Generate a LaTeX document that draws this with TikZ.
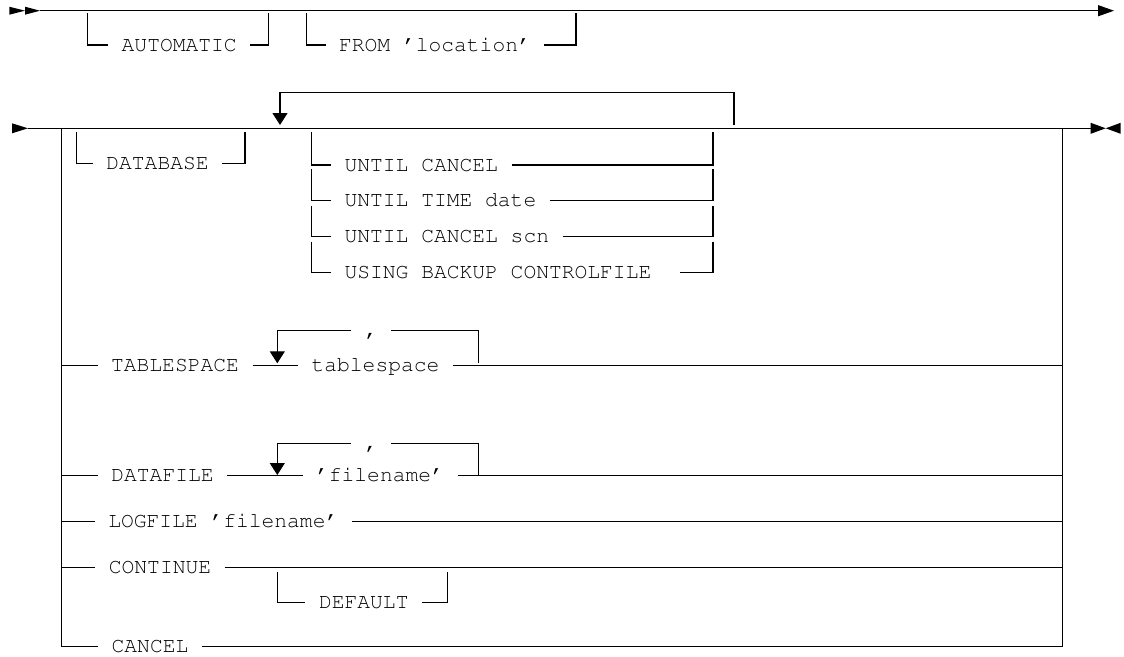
\documentclass[tikz,border=0pt]{standalone}
\usepackage[T1]{fontenc}
\usepackage{courier}
\usetikzlibrary{arrows.meta}

\begin{document}
\begin{tikzpicture}[x=1pt, y=-1pt, line width=1.2pt,
		lbl/.style={font=\ttfamily\fontsize{21.3}{24}\selectfont, inner xsep=13pt, inner ysep=0pt, text height=12pt, text depth=0pt},
		dn/.style={-{Triangle[length=12pt, width=15pt]}}]
		%%%%% START %%%%%
		\useasboundingbox (0, 0) rectangle (1124, 656);
		
		\fill (9.3, 6.7) -- (25, 10.7) -- (9.3, 14.7) -- cycle;
		\fill (25, 6.7) -- (40, 10.7) -- (25, 14.7) -- cycle;
		\draw[-{Triangle[length=16pt, width=11pt]}] (40, 10.7) -- (1114, 10.7);
		
		\node[lbl] (automatic) at (179.2, 45) {AUTOMATIC};
		\draw (87.3, 13.3) |- (automatic);
		\draw (automatic) -| (268.3, 13.3);
		\node[lbl] (from) at (435, 45) {FROM 'location'};
		\draw (306.7, 13.3) |- (from);
		\draw (from) -| (576, 13.3);
		
		\fill (12, 123.3) -- (28, 128.3) -- (12, 133.3) -- cycle;
		\draw (28, 128.3) -- (1090.7, 128.3);
		\fill (1090.7, 122.8) -- (1105.7, 128.3) -- (1090.7, 133.8) -- cycle;
		\fill (1120.7, 122.8) -- (1105.7, 128.3) -- (1120.7, 133.8) -- cycle;
		
		\node[lbl] (database) at (157.5, 163.3) {DATABASE};
		\draw (76.7, 131.7) |- (database);
		\draw (database) -| (245, 131.7);
		
		\draw[dn] (734, 125) |- (280, 92.7) -- (280, 125);
		
		\node[lbl, anchor=west] (ucancel) at (331, 165) {UNTIL CANCEL};
		\draw (311.7, 131.7) |- (ucancel);
		\draw (ucancel) -| (713, 131.7);
		\node[lbl, anchor=west] (utime) at (331, 200.7) {UNTIL TIME date};
		\draw (311.7, 169) |- (utime);
		\draw (utime) -| (713, 169);
		\node[lbl, anchor=west] (uscn) at (331, 236.7) {UNTIL CANCEL scn};
		\draw (311.7, 206) |- (uscn);
		\draw (uscn) -| (713, 206);
		\node[lbl, anchor=west] (ubackup) at (331, 272.7) {USING BACKUP CONTROLFILE};
		\draw (311.7, 241.7) |- (ubackup);
		\draw ([xshift=15pt]ubackup.east) -| (713, 241.7);
		
		\node[lbl] (tablespace) at (175, 365.7) {TABLESPACE};
		\node[lbl] (tsname) at (375.5, 365.7) {tablespace};
		\node[lbl] (tscomma) at (371, 330.7) {,};
		\draw (61.7, 365.7) -- (tablespace) -- (tsname) -- (1062.3, 365.7);
		\draw (478.3, 362.7) |- (tscomma);
		\draw[dn] (tscomma) -| (277.3, 363.3);
		
		\node[lbl] (datafile) at (162.5, 475.3) {DATAFILE};
		\node[lbl] (dfname) at (380, 475.3) {'filename'};
		\node[lbl] (dfcomma) at (371, 443.3) {,};
		\draw (61.7, 475.3) -- (datafile) -- (dfname) -- (1062.3, 475.3);
		\draw (478.3, 475.3) |- (dfcomma);
		\draw[dn] (dfcomma) -| (277.3, 475);
		
		\node[lbl] (logfile) at (223.3, 521.7) {LOGFILE 'filename'};
		\draw (61.7, 521.7) -- (logfile) -- (1062.3, 521.7);
		
		\node[lbl] (continue) at (160, 567.7) {CONTINUE};
		\draw (61.7, 567.7) -- (continue) -- (1062.3, 567.7);
		\node[lbl] (default) at (363.8, 602.7) {DEFAULT};
		\draw (277.3, 571.7) |- (default);
		\draw (default) -| (447.7, 571.7);
		
		\node[lbl] (cancel) at (150, 646.7) {CANCEL};
		\draw (61.7, 128.3) |- (cancel);
		\draw (cancel) -| (1062.3, 128.3);
		
		%%%%% END %%%%%
	\end{tikzpicture}
\end{document}
